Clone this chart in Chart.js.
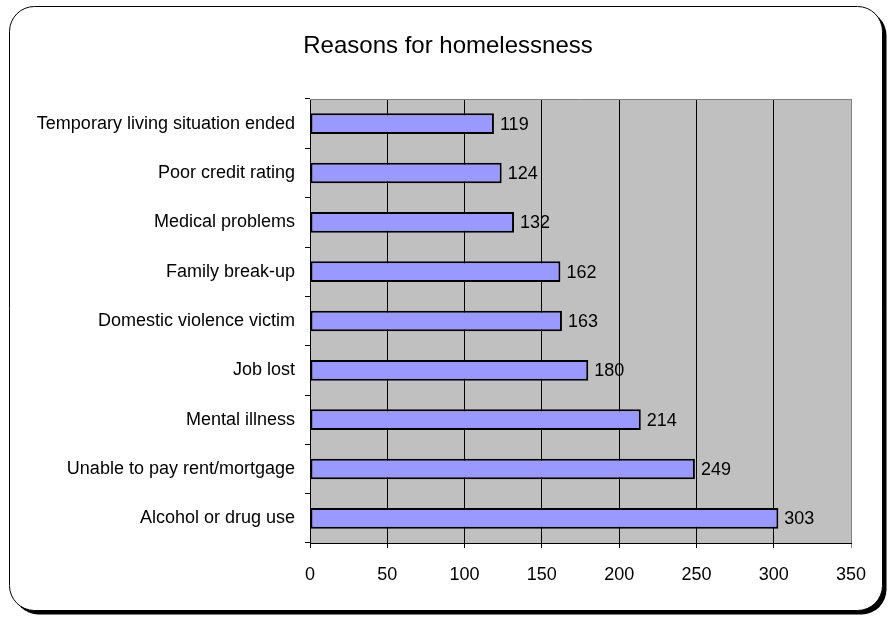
<!DOCTYPE html>
<html>
<head>
<meta charset="utf-8">
<title>Reasons for homelessness</title>
<script src="https://cdn.jsdelivr.net/npm/chart.js"></script>
<style>
  html, body { margin: 0; padding: 0; background: #fff; }
  #wrap { width: 889px; height: 618px; position: relative; }
</style>
</head>
<body>
<div id="wrap"><canvas id="chart"></canvas></div>
<script>
// reasons given, top row first
const reasons = [
  'Temporary living situation ended',
  'Poor credit rating',
  'Medical problems',
  'Family break-up',
  'Domestic violence victim',
  'Job lost',
  'Mental illness',
  'Unable to pay rent/mortgage',
  'Alcohol or drug use'
];
const counts = [119, 124, 132, 162, 163, 180, 214, 249, 303];
const axisMax = 350;
const axisStep = 50;

const FONT = '"Liberation Sans", Arial, sans-serif';

// rounded frame with drop shadow, grey plot area, title
const frame = {
  id: 'frame',
  beforeDraw(chart) {
    const c = chart.ctx;
    const a = chart.chartArea;
    c.save();
    c.fillStyle = '#fff';
    c.fillRect(0, 0, chart.width, chart.height);
    const x = 9.5, y = 6.5, w = 873, h = 604, r = 25;
    c.fillStyle = '#000';
    c.beginPath();
    c.roundRect(x + 4, y + 4, w, h, r);
    c.fill();
    c.beginPath();
    c.roundRect(x, y, w, h, r);
    c.fillStyle = '#fff';
    c.fill();
    c.lineWidth = 1;
    c.strokeStyle = '#000';
    c.stroke();

    c.fillStyle = '#c0c0c0';
    c.fillRect(a.left, a.top, a.right - a.left, a.bottom - a.top);

    c.fillStyle = '#000';
    c.font = '24px ' + FONT;
    c.textAlign = 'center';
    c.textBaseline = 'middle';
    c.fillText('Reasons for homelessness', 448, 46);
    c.restore();
  },
  afterDatasetsDraw(chart) {
    const c = chart.ctx;
    const a = chart.chartArea;
    c.save();
    c.strokeStyle = '#808080';
    c.lineWidth = 1;
    c.beginPath();
    c.moveTo(a.left, a.top + 0.5);
    c.lineTo(a.right, a.top + 0.5);
    c.stroke();
    c.restore();
  }
};

// value printed just past the end of each bar
const barValues = {
  id: 'barValues',
  afterDatasetsDraw(chart) {
    const c = chart.ctx;
    const meta = chart.getDatasetMeta(0);
    c.save();
    c.fillStyle = '#000';
    c.font = '18px ' + FONT;
    c.textAlign = 'left';
    c.textBaseline = 'middle';
    meta.data.forEach((bar, i) => {
      c.fillText(String(counts[i]), bar.x + 6, bar.y + 1);
    });
    c.restore();
  }
};

new Chart(document.getElementById('chart'), {
  type: 'bar',
  data: {
    labels: reasons,
    datasets: [{
      data: counts,
      backgroundColor: '#9999ff',
      borderColor: '#000',
      borderWidth: 2,
      borderSkipped: false,
      categoryPercentage: 1,
      barPercentage: 0.42
    }]
  },
  options: {
    indexAxis: 'y',
    responsive: true,
    maintainAspectRatio: false,
    animation: false,
    layout: { padding: { left: 0, top: 99, right: 38, bottom: 0 } },
    plugins: {
      legend: { display: false },
      title: { display: false },
      tooltip: { enabled: false }
    },
    scales: {
      x: {
        min: 0,
        max: axisMax,
        afterFit(scale) { scale.height = 75; },
        ticks: {
          stepSize: axisStep,
          color: '#000',
          padding: 16,
          font: { family: FONT, size: 18 }
        },
        grid: {
          color: ctx => (ctx.tick && ctx.tick.value === axisMax ? '#808080' : '#000'),
          lineWidth: 1,
          tickLength: 5
        },
        border: { color: '#000', width: 1 }
      },
      y: {
        afterFit(scale) { scale.width = 310; },
        ticks: {
          color: '#000',
          padding: 10,
          font: { family: FONT, size: 18 }
        },
        grid: {
          drawOnChartArea: false,
          color: '#000',
          tickLength: 5,
          offset: true
        },
        border: { color: '#000', width: 1 }
      }
    }
  },
  plugins: [frame, barValues]
});
</script>
</body>
</html>
